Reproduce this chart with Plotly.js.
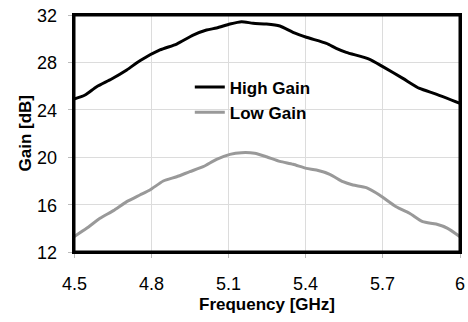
<!DOCTYPE html>
<html><head><meta charset="utf-8">
<script src="https://cdn.plot.ly/plotly-3.0.1.min.js"></script>
<style>html,body{margin:0;padding:0;background:#fff}</style>
</head><body><div id="chart" style="width:468px;height:322px"></div>
<script>
var highFreq = [4.5,4.543,4.588,4.646,4.705,4.756,4.834,4.899,4.963,5.015,5.054,5.106,5.151,5.196,5.248,5.3,5.351,5.403,5.481,5.519,5.558,5.649,5.7,5.778,5.843,5.907,6.0];
var highGain = [24.9,25.25,25.95,26.6,27.36,28.14,29.05,29.55,30.3,30.73,30.9,31.24,31.44,31.3,31.24,31.07,30.54,30.12,29.6,29.19,28.85,28.26,27.64,26.65,25.8,25.33,24.55];
var lowFreq = [4.5,4.549,4.601,4.653,4.705,4.756,4.795,4.847,4.899,4.95,5.002,5.054,5.106,5.151,5.202,5.248,5.3,5.351,5.403,5.442,5.494,5.545,5.584,5.636,5.687,5.752,5.804,5.855,5.907,5.952,6.0];
var lowGain = [13.29,14.0,14.84,15.49,16.25,16.81,17.23,17.99,18.35,18.78,19.2,19.82,20.24,20.38,20.33,20.04,19.65,19.4,19.06,18.92,18.56,17.93,17.65,17.43,16.81,15.82,15.27,14.56,14.36,14.0,13.29];
var xTicks = [4.5,4.8,5.1,5.4,5.7,6];
var xTickText = ['4.5','4.8','5.1','5.4','5.7','6'];
var yTicks = [12,16,20,24,28,32];
var yTickText = ['12','16','20','24','28','32'];
var seriesNames = ['High Gain','Low Gain'];
var xTitle = 'Frequency [GHz]';
var yTitle = 'Gain [dB]';

var fontFam = '"Liberation Sans", Arial, sans-serif';
var tickFont = {family: fontFam, size: 18, color: '#000'};
var titleFont = {family: fontFam, size: 17, color: '#000', weight: 'bold'};
var data = [
  {x: highFreq, y: highGain, name: seriesNames[0], mode: 'lines', line: {color: '#000000', width: 3, shape: 'spline', smoothing: 0.6}},
  {x: lowFreq, y: lowGain, name: seriesNames[1], mode: 'lines', line: {color: '#999999', width: 3, shape: 'spline', smoothing: 0.6}}
];
var annotations = [];
xTicks.forEach(function(v, i) {
  annotations.push({text: xTickText[i], xref: 'x', yref: 'paper', x: v, y: 0, xanchor: 'center', yanchor: 'middle',
    yshift: -32, showarrow: false, font: tickFont});
});
yTicks.forEach(function(v, i) {
  annotations.push({text: yTickText[i], xref: 'paper', yref: 'y', x: 0, y: v, xanchor: 'right', yanchor: 'middle',
    xshift: -15, yshift: -1, showarrow: false, font: tickFont});
});
annotations.push({text: xTitle, xref: 'paper', yref: 'paper', x: 0.5, y: 0, xanchor: 'center', yanchor: 'middle',
  yshift: -52, showarrow: false, font: titleFont});
annotations.push({text: yTitle, xref: 'paper', yref: 'paper', x: 0, y: 0.5, xanchor: 'center', yanchor: 'middle',
  xshift: -49, textangle: -90, showarrow: false, font: titleFont});

var layout = {
  width: 468, height: 322,
  margin: {l: 74, r: 8, t: 15, b: 70},
  showlegend: true,
  legend: {x: 0.30, y: 0.77, xanchor: 'left', yanchor: 'top', bgcolor: 'rgba(255,255,255,0)',
    font: {family: fontFam, size: 17, color: '#000', weight: 'bold'}},
  xaxis: {range: [4.5, 6], tickvals: xTicks, showticklabels: false, showgrid: true, gridcolor: '#dcdcdc', gridwidth: 1,
    showline: true, linecolor: 'rgb(0,0,0)', linewidth: 2, mirror: true,
    zeroline: false, ticks: 'outside', ticklen: 4, tickcolor: '#bbbbbb', tickwidth: 1},
  yaxis: {range: [12, 32], tickvals: yTicks, showticklabels: false, showgrid: true, gridcolor: '#dcdcdc', gridwidth: 1,
    showline: true, linecolor: 'rgb(0,0,0)', linewidth: 2, mirror: true,
    zeroline: false, ticks: 'outside', ticklen: 4, tickcolor: '#bbbbbb', tickwidth: 1},
  annotations: annotations,
  shapes: [{type: 'rect', xref: 'paper', yref: 'paper', x0: 0, x1: 1, y0: 0, y1: 1, line: {color: 'rgb(0,0,0)', width: 3}, layer: 'above'}]
};
Plotly.newPlot('chart', data, layout, {displayModeBar: false});
</script></body></html>
